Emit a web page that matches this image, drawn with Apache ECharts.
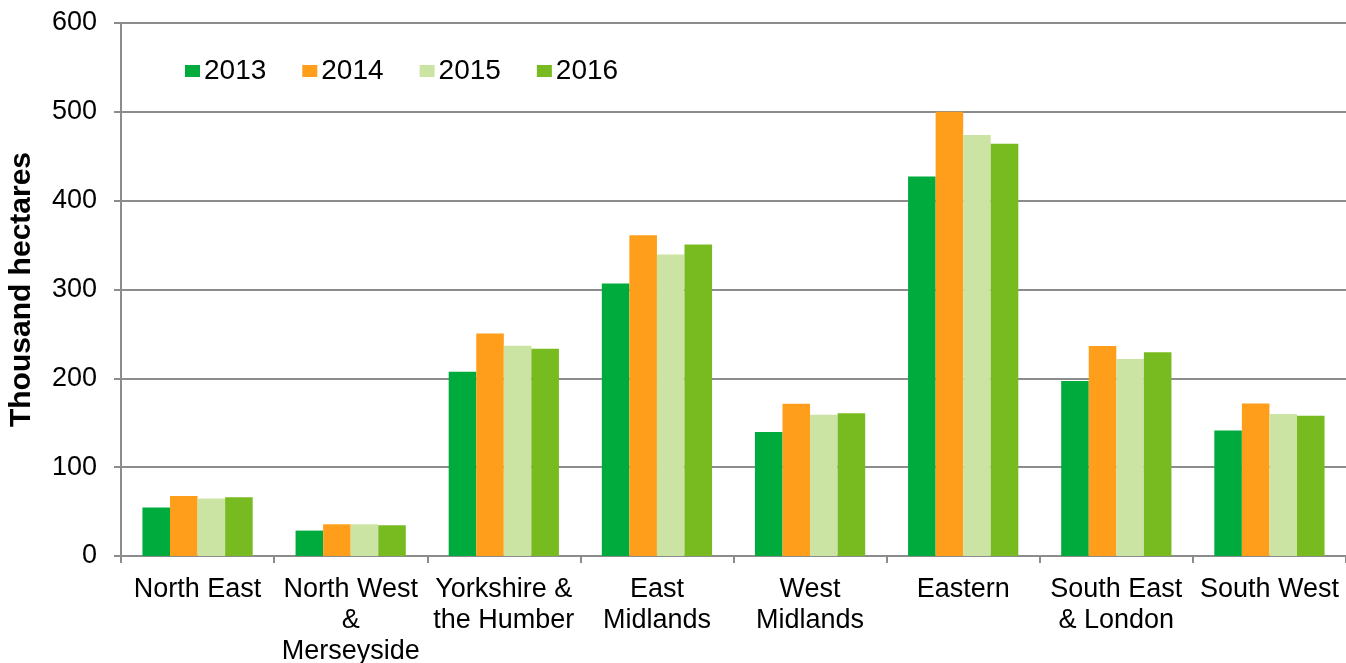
<!DOCTYPE html>
<html>
<head>
<meta charset="utf-8">
<script src="https://cdn.jsdelivr.net/npm/echarts@6/dist/echarts.min.js"></script>
<style>
  html, body { margin: 0; padding: 0; background: #fff; }
  #chart { width: 1346px; height: 663px; }
</style>
</head>
<body>
<div id="chart"></div>
<script>
// regions on the x axis
const regions = [
  'North East',
  'North West\n&\nMerseyside',
  'Yorkshire &\nthe Humber',
  'East\nMidlands',
  'West\nMidlands',
  'Eastern',
  'South East\n& London',
  'South West'
]

const years = ['2013', '2014', '2015', '2016']
const colors = ['#00AB3E', '#FF9E1A', '#CCE4A3', '#78BB20']

// thousand hectares
const v2013 = [54.5, 28.6, 207.3, 306.7, 139.5, 427.3, 197.0, 141.3]
const v2014 = [67.6, 35.7, 250.6, 361.1, 171.5, 500.0, 236.5, 171.8]
const v2015 = [64.7, 35.7, 236.6, 339.4, 159.1, 473.8, 221.8, 159.8]
const v2016 = [66.1, 34.6, 233.2, 350.6, 160.6, 464.0, 229.3, 158.0]
const values = [v2013, v2014, v2015, v2016]

const font = 'Liberation Sans, Arial, sans-serif'
const axisGrey = '#8c8c8c'

const chart = echarts.init(document.getElementById('chart'))

chart.setOption({
  animation: false,
  grid: { left: 121, right: 0, top: 23, bottom: 107, outerBoundsMode: 'none' },
  legend: {
    left: 180,
    top: 52,
    itemWidth: 15,
    itemHeight: 12,
    itemGap: 36,
    icon: 'rect',
    textStyle: { fontFamily: font, fontSize: 28, color: '#000', padding: [0, 0, 0, -1] },
    data: years
  },
  xAxis: {
    type: 'category',
    data: regions,
    axisLine: { lineStyle: { color: axisGrey, width: 2 } },
    axisTick: { show: true, length: 7, lineStyle: { color: axisGrey, width: 2 } },
    axisLabel: {
      interval: 0,
      margin: 18,
      fontFamily: font,
      fontSize: 27,
      lineHeight: 31,
      color: '#000'
    }
  },
  yAxis: {
    type: 'value',
    min: 0,
    max: 600,
    interval: 100,
    name: 'Thousand hectares',
    nameLocation: 'middle',
    nameGap: 84,
    nameTextStyle: { fontFamily: font, fontSize: 30, fontWeight: 'bold', color: '#000' },
    axisLine: { show: true, lineStyle: { color: axisGrey, width: 2 } },
    axisTick: { show: true, length: 7, lineStyle: { color: axisGrey, width: 2 } },
    axisLabel: { margin: 24, fontFamily: font, fontSize: 27, color: '#000' },
    splitLine: { lineStyle: { color: axisGrey, width: 2 } }
  },
  series: years.map((y, i) => ({
    name: y,
    type: 'bar',
    data: values[i],
    barGap: '0%',
    barCategoryGap: '28%',
    itemStyle: { color: colors[i] }
  }))
})
</script>
</body>
</html>
